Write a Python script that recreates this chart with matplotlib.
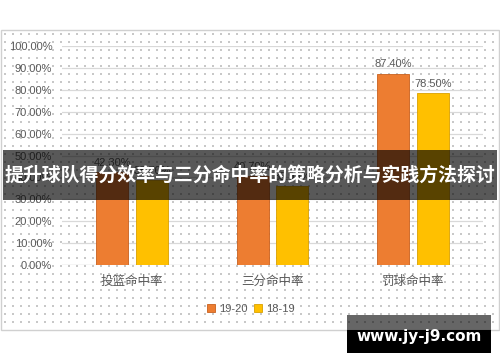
import matplotlib
matplotlib.use("Agg")
import matplotlib.pyplot as plt
from matplotlib.patches import Rectangle
import numpy as np

categories = ["投篮命中率", "三分命中率", "罚球命中率"]
series_names = ["19-20", "18-19"]
values_1920 = [42.3, 40.7, 87.4]
values_1819 = [38.7, 35.9, 78.5]
yticks = [0, 10, 20, 30, 40, 50, 60, 70, 80, 90, 100]
title = "提升球队得分效率与三分命中率的策略分析与实践方法探讨"
watermark = "www.jy-j9.com"

W, H = 500, 362
fig = plt.figure(figsize=(W / 100, H / 100), dpi=100)
fig.patch.set_facecolor("white")

def fx(px):
    return px / W

def fy(py):
    return 1 - py / H

# chart frame with dotted background
bg = fig.add_axes([0, 0, 1, 1], zorder=0)
bg.set_xlim(0, W)
bg.set_ylim(H, 0)
bg.axis("off")
bg.add_patch(Rectangle((1, 30), 498, 300, facecolor="white", edgecolor="#D0D0D0", lw=1))
xs = np.arange(5, 498, 8)
ys = np.arange(34, 329, 8)
gx, gy = np.meshgrid(xs, ys)
bg.scatter(gx.ravel(), gy.ravel(), s=0.6, c="#C8C8C8", marker="s", linewidths=0)

ax = fig.add_axes([fx(62), fy(265), fx(483) - fx(62), fy(46) - fy(265)], zorder=1)
ax.patch.set_alpha(0)
x = np.arange(len(categories))
bw = 0.228
off = 0.142
orange = "#ED7D31"
yellow = "#FFC000"
b1 = ax.bar(x - off, values_1920, bw, color=orange, edgecolor="#C8601E", linewidth=0.6, zorder=3, label=series_names[0])
b2 = ax.bar(x + off, values_1819, bw, color=yellow, edgecolor="#D9A000", linewidth=0.6, zorder=3, label=series_names[1])
for bars, vals in ((b1, values_1920), (b2, values_1819)):
    for r, v in zip(bars, vals):
        ax.annotate(f"{v:.2f}%", (r.get_x() + r.get_width() / 2, v), xytext=(0, 3),
                    textcoords="offset points", ha="center", va="bottom",
                    fontsize=8, color="#595959", family="Liberation Sans")

ax.set_xlim(-0.5, 2.5)
ax.set_ylim(0, 100)
ax.set_yticks(yticks)
ax.set_yticklabels([f"{t:.2f}%" for t in yticks], fontsize=8, color="#595959", family="Liberation Sans")
ax.set_xticks(x)
ax.set_xticklabels(categories, fontsize=9, color="#595959", family="Noto Sans CJK SC")
ax.tick_params(axis="both", length=0)
ax.tick_params(axis="y", pad=7)
ax.tick_params(axis="x", pad=7)
ax.grid(axis="y", color="#D9D9D9", linewidth=0.9, zorder=0)
for s in ax.spines.values():
    s.set_visible(False)
ax.axhline(0, color="#D9D9D9", linewidth=0.9, zorder=2)

leg = fig.legend(handles=[b1, b2], labels=series_names, loc="center", bbox_to_anchor=(fx(251), fy(309)),
                 ncol=2, frameon=False, fontsize=8, handlelength=0.7, handleheight=0.7,
                 handletextpad=0.4, columnspacing=0.6, prop={"family": "Liberation Sans", "size": 8})
for t in leg.get_texts():
    t.set_color("#595959")

# overlay banner and watermark
ov = fig.add_axes([0, 0, 1, 1], zorder=5)
ov.set_xlim(0, W)
ov.set_ylim(H, 0)
ov.axis("off")
ov.patch.set_alpha(0)
ov.add_patch(Rectangle((3, 150), 494, 50, facecolor="black", alpha=0.65, lw=0))
ov.text(250, 175, title, ha="center", va="center", color="white", fontsize=13.6,
        fontweight="bold", family=["Noto Sans CJK SC", "DejaVu Sans"])
ov.add_patch(Rectangle((347, 315), 144, 15, facecolor="black", alpha=0.6, lw=0))
ov.add_patch(Rectangle((347, 330), 144, 23, facecolor="black", lw=0))
ov.text(419, 337, watermark, ha="center", va="center", color="white", fontsize=11,
        fontweight="bold", family="DejaVu Sans")

fig.savefig("out.png", dpi=100)
